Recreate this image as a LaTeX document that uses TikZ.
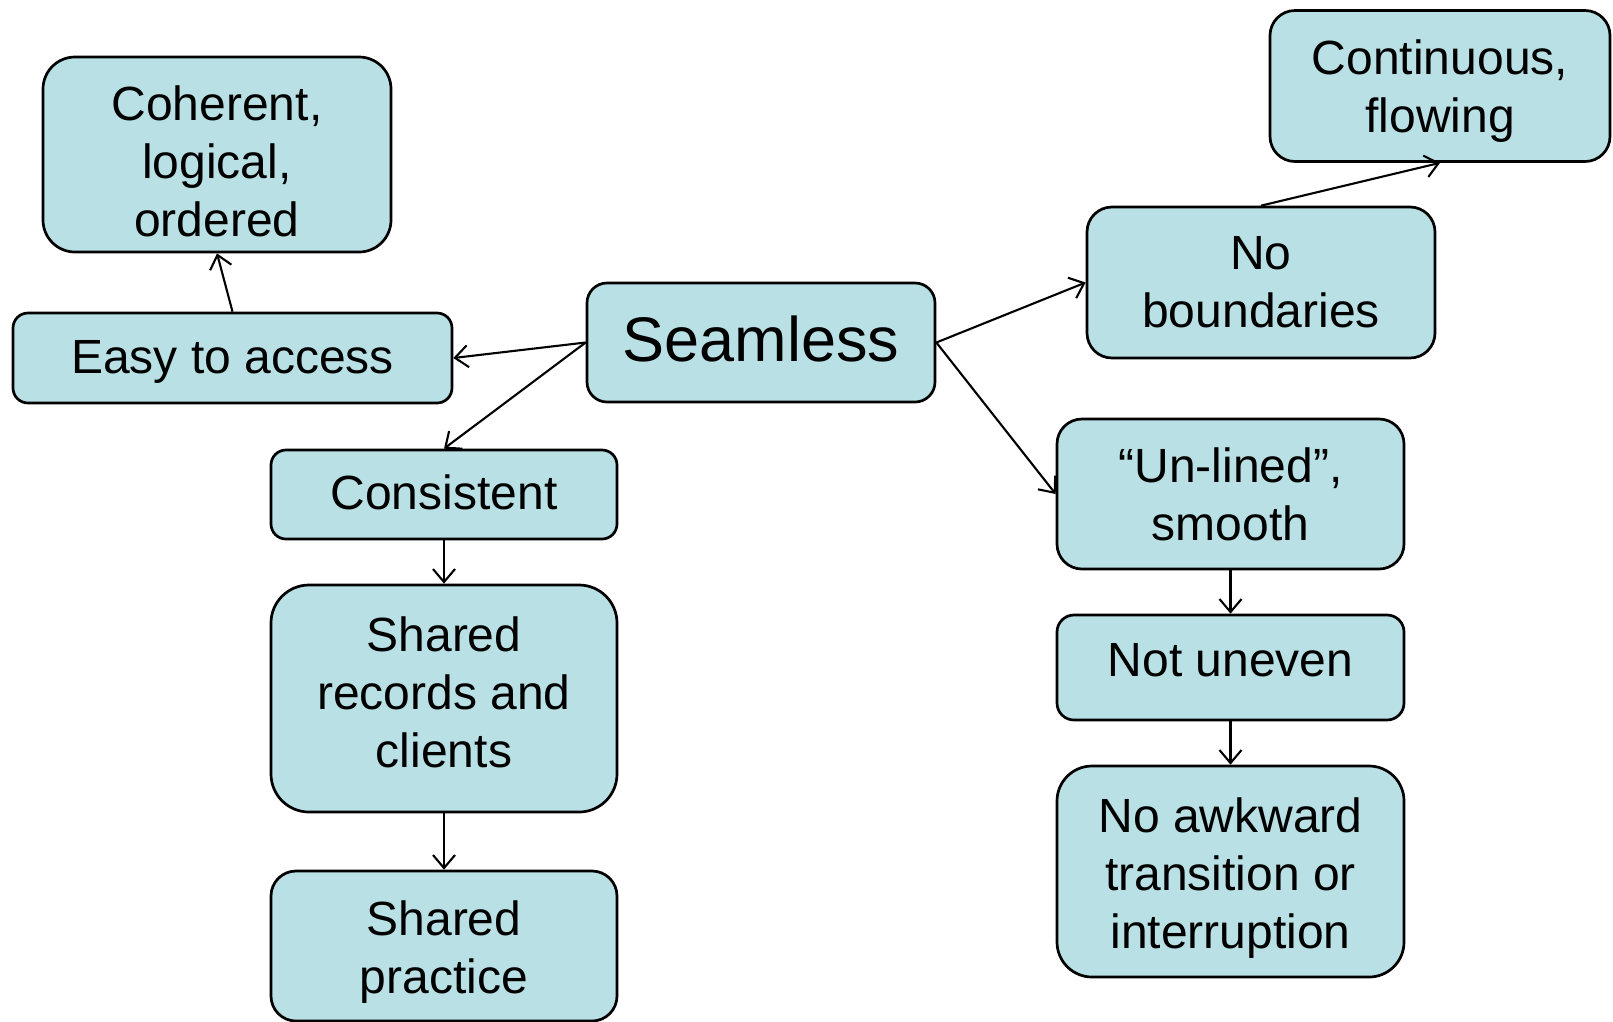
\documentclass[tikz,border=0pt]{standalone}
\usepackage{fontspec}
\setmainfont{Liberation Sans}
\usetikzlibrary{arrows.meta,positioning}
\definecolor{smFill}{HTML}{B9E0E4}
\tikzset{
  sm/.style={draw=black, line width=2.7pt, fill=smFill, align=center, inner sep=0pt,
    rounded corners=#1, font=\fontsize{48}{58}\selectfont},
  sm/.default={16pt},
}

\begin{document}
\begin{tikzpicture}[x=1pt, y=-1pt,
  link/.style={->, line width=2.1pt},
  >={Straight Barb[length=13pt,width=22pt]}]
\useasboundingbox (0,0) rectangle (1613,1021);
% centre
\node[sm=20pt, minimum width=348pt, minimum height=119pt, text height=38pt, font=\fontsize{63}{72}\selectfont] (seam) at (761,342.5) {Seamless};
% left branch
\node[sm=15pt, minimum width=439pt, minimum height=90pt, text height=40pt] (easy) at (232.5,358) {Easy to access};
\node[sm=32pt, minimum width=348pt, minimum height=195pt, text height=165pt] (coher) at (217,154.5) {Coherent,\\logical,\\ordered};
\node[sm=15pt, minimum width=346pt, minimum height=89pt, text height=31pt] (cons) at (444,494.5) {Consistent};
\node[sm=38pt, minimum width=346pt, minimum height=227pt, text height=139pt] (recs) at (444,698.5) {Shared\\records and\\clients};
\node[sm=25pt, minimum width=346pt, minimum height=150pt, text height=104pt] (prac) at (444,946) {Shared\\practice};
% right branch
\node[sm=25pt, minimum width=348pt, minimum height=151pt] (nobd) at (1261,282.5) {No\\boundaries};
\node[sm=25pt, minimum width=340pt, minimum height=151pt, text height=102pt] (cont) at (1440,86) {Continuous,\\flowing};
\node[sm=25pt, minimum width=347pt, minimum height=150pt] (unln) at (1230.5,494) {“Un-lined”,\\smooth};
\node[sm=17pt, minimum width=347pt, minimum height=105pt, text height=18pt] (unev) at (1230.5,667.5) {Not uneven};
\node[sm=35pt, minimum width=347pt, minimum height=211pt, text height=164pt] (awk) at (1230.5,871.5) {No awkward\\transition or\\interruption};
% connectors
\draw[link] (seam.west) -- (easy.east);
\draw[link] (seam.west) -- (cons.north);
\draw[link] (easy.north) -- (coher.south);
\draw[link] (cons.south) -- (recs.north);
\draw[link] (recs.south) -- (prac.north);
\draw[link] (seam.east) -- (nobd.west);
\draw[link] (seam.east) -- (unln.west);
\draw[link] (nobd.north) -- (cont.south);
\draw[link] (unln.south) -- (unev.north);
\draw[link] (unev.south) -- (awk.north);
\end{tikzpicture}
\end{document}
